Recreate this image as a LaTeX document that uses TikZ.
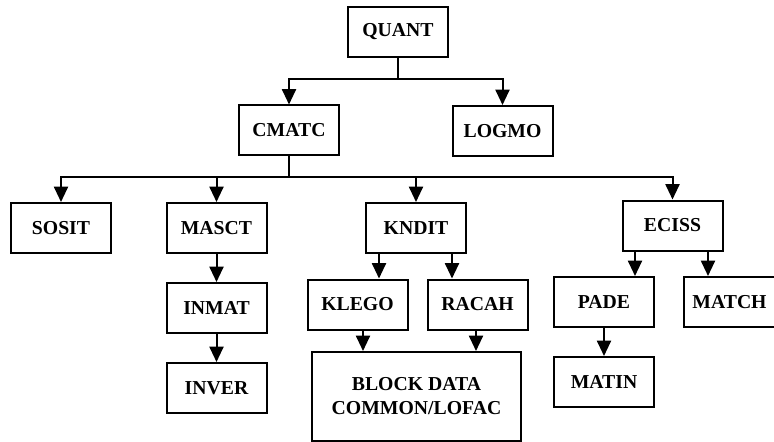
\documentclass[tikz,border=0pt]{standalone}
\usepackage{fontspec}
\setmainfont{Liberation Serif}
\usetikzlibrary{arrows.meta,positioning}

\begin{document}
\begin{tikzpicture}[
x=0.75pt,y=-0.75pt,
node distance=21pt and 13.5pt,
unit/.style={draw,line width=1.5pt,align=center,inner sep=2pt,
font=\fontsize{14.8pt}{18pt}\selectfont\bfseries,
minimum width=75pt,minimum height=37.5pt},
arr/.style={-{Triangle[length=11.5pt,width=10.5pt]},line width=1.5pt}
]
\useasboundingbox (0,0) rectangle (774,442);

\node[unit] (quant) at (398,32)    {QUANT};
\node[unit] (cmatc) at (289,130.5) {CMATC};
\node[unit] (logmo) at (502.5,131) {LOGMO};
\node[unit] (sosit) at (61,228)    {SOSIT};
\node[unit] (masct) at (216.5,228) {MASCT};
\node[unit] (kndit) at (416,228)   {KNDIT};
\node[unit] (eciss) at (672.5,225.5) {ECISS};
\node[unit,below=of masct] (inmat) {INMAT};
\node[unit,below=of inmat] (inver) {INVER};
\node[unit] (klego) at (357.5,304.5) {KLEGO};
\node[unit,right=of klego] (racah) {RACAH};
\node[unit,minimum width=156.75pt,minimum height=66.75pt]
  (block) at (416.5,396.5) {BLOCK DATA\\COMMON/LOFAC};
\node[unit] (pade) at (604,302) {PADE};
\node[unit,right=21pt of pade,minimum width=68.25pt] (match) {MATCH};
\node[unit,below=of pade] (matin) {MATIN};

% bus lines
\coordinate (bus1) at (398,79);
\coordinate (bus2) at (289,177);
\draw[line width=1.5pt] (quant) -- (bus1);
\draw[arr] (bus1) -| (cmatc);
\draw[arr] (bus1) -| (logmo);
\draw[line width=1.5pt] (cmatc) -- (bus2);
\foreach \b in {sosit,masct,kndit,eciss} \draw[arr] (bus2) -| (\b);

% drops off centre
\coordinate (dkl) at (379,0);
\coordinate (dra) at (452,0);
\coordinate (dbl) at (363,0);
\coordinate (dbr) at (476,0);
\coordinate (dpa) at (635,0);
\coordinate (dma) at (708,0);
\draw[arr] (kndit.south -| dkl) -- (klego.north -| dkl);
\draw[arr] (kndit.south -| dra) -- (racah.north -| dra);
\draw[arr] (klego.south -| dbl) -- (block.north -| dbl);
\draw[arr] (racah.south -| dbr) -- (block.north -| dbr);
\draw[arr] (eciss.south -| dpa) -- (pade.north -| dpa);
\draw[arr] (eciss.south -| dma) -- (match.north -| dma);

\foreach \a/\b in {masct/inmat,inmat/inver,pade/matin} \draw[arr] (\a) -- (\b);
\end{tikzpicture}
\end{document}
